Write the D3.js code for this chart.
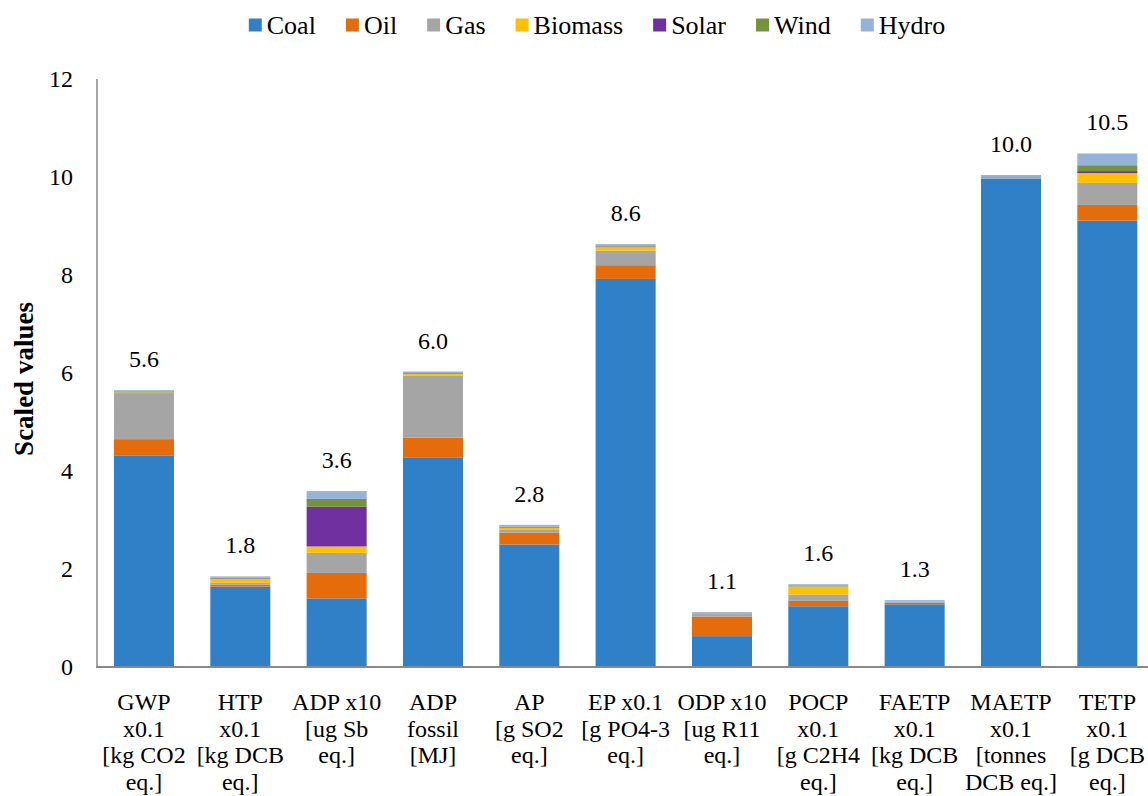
<!DOCTYPE html>
<html>
<head>
<meta charset="utf-8">
<script src="https://cdn.jsdelivr.net/npm/d3@7"></script>
<style>
  html, body { margin: 0; padding: 0; background: #fff; }
  svg text { font-family: "Liberation Serif", "Times New Roman", serif; fill: #000; }
</style>
</head>
<body>
<svg id="chart" width="1148" height="796"></svg>
<script>
// ---- data ----
const categories = ["GWP", "HTP", "ADP x10", "ADP fossil", "AP", "EP", "ODP", "POCP", "FAETP", "MAETP", "TETP"];
const categoryLines = [
  ["GWP", "x0.1", "[kg CO2", "eq.]"],
  ["HTP", "x0.1", "[kg DCB", "eq.]"],
  ["ADP x10", "[ug Sb", "eq.]"],
  ["ADP", "fossil", "[MJ]"],
  ["AP", "[g SO2", "eq.]"],
  ["EP x0.1", "[g PO4-3", "eq.]"],
  ["ODP x10", "[ug R11", "eq.]"],
  ["POCP", "x0.1", "[g C2H4", "eq.]"],
  ["FAETP", "x0.1", "[kg DCB", "eq.]"],
  ["MAETP", "x0.1", "[tonnes", "DCB eq.]"],
  ["TETP", "x0.1", "[g DCB", "eq.]"]
];
const seriesNames = ["Coal", "Oil", "Gas", "Biomass", "Solar", "Wind", "Hydro"];
const coal    = [4.32, 1.64, 1.40, 4.28, 2.50, 7.92, 0.63, 1.24, 1.28, 9.97, 9.11];
const oil     = [0.33, 0.04, 0.52, 0.40, 0.24, 0.28, 0.40, 0.11, 0.03, 0.00, 0.32];
const gas     = [0.94, 0.04, 0.41, 1.27, 0.07, 0.30, 0.05, 0.13, 0.03, 0.03, 0.45];
const biomass = [0.01, 0.08, 0.13, 0.03, 0.03, 0.07, 0.01, 0.16, 0.005, 0.00, 0.20];
const solar   = [0.00, 0.01, 0.81, 0.01, 0.01, 0.01, 0.00, 0.00, 0.00, 0.00, 0.04];
const wind    = [0.01, 0.01, 0.16, 0.01, 0.01, 0.01, 0.01, 0.01, 0.00, 0.00, 0.12];
const hydro   = [0.04, 0.03, 0.16, 0.03, 0.04, 0.04, 0.02, 0.04, 0.02, 0.04, 0.24];
const totalLabels = ["5.6", "1.8", "3.6", "6.0", "2.8", "8.6", "1.1", "1.6", "1.3", "10.0", "10.5"];
const yTicks = [0, 2, 4, 6, 8, 10, 12];
const colors = ["#3080C8", "#E46C0A", "#A5A5A5", "#FFC000", "#7030A0", "#76923C", "#95B3D7"];

// ---- build table ----
const seriesValues = [coal, oil, gas, biomass, solar, wind, hydro];
const table = categories.map((c, i) => {
  const row = { category: c };
  seriesNames.forEach((s, k) => { row[s] = seriesValues[k][i]; });
  return row;
});

const svg = d3.select("#chart");
svg.append("rect").attr("width", 1148).attr("height", 796).attr("fill", "#fff");

const x = d3.scaleBand()
  .domain(categories)
  .range([95.8, 1155.5])
  .paddingInner(0.377)
  .paddingOuter(0.1886);

const y = d3.scaleLinear().domain([0, 12]).range([667, 79]);

const stacked = d3.stack().keys(seriesNames)(table);
const color = d3.scaleOrdinal().domain(seriesNames).range(colors);

// bars
svg.append("g").selectAll("g")
  .data(stacked)
  .join("g")
  .attr("fill", d => color(d.key))
  .selectAll("rect")
  .data(d => d)
  .join("rect")
  .attr("x", d => x(d.data.category))
  .attr("width", x.bandwidth())
  .attr("y", d => y(d[1]))
  .attr("height", d => Math.max(0, y(d[0]) - y(d[1])));

// axes lines
const axisColor = "#898989";
svg.append("line")
  .attr("x1", 97).attr("x2", 97)
  .attr("y1", y(12)).attr("y2", y(0))
  .attr("stroke", axisColor).attr("stroke-width", 1.5);
svg.append("line")
  .attr("x1", 96).attr("x2", 1148)
  .attr("y1", y(0)).attr("y2", y(0))
  .attr("stroke", axisColor).attr("stroke-width", 2);

// y tick labels
svg.append("g").selectAll("text")
  .data(yTicks)
  .join("text")
  .attr("x", 73)
  .attr("y", d => y(d))
  .attr("dy", "0.35em")
  .attr("text-anchor", "end")
  .attr("font-size", 24)
  .text(d => d);

// y title
svg.append("text")
  .attr("transform", `translate(33, ${y(6) + 6}) rotate(-90)`)
  .attr("text-anchor", "middle")
  .attr("font-size", 27)
  .attr("font-weight", "bold")
  .text("Scaled values");

// x labels
const xl = svg.append("g");
categories.forEach((c, i) => {
  const cx = x(c) + x.bandwidth() / 2;
  const t = xl.append("text")
    .attr("text-anchor", "middle")
    .attr("font-size", 24)
    .attr("x", cx)
    .attr("y", 710);
  categoryLines[i].forEach((ln, j) => {
    t.append("tspan")
      .attr("x", cx)
      .attr("y", 710 + j * 26.5)
      .text(ln);
  });
});

// total labels
const topLayer = stacked[stacked.length - 1];
svg.append("g").selectAll("text")
  .data(topLayer)
  .join("text")
  .attr("x", d => x(d.data.category) + x.bandwidth() / 2)
  .attr("y", d => y(d[1]) - 23)
  .attr("text-anchor", "middle")
  .attr("font-size", 24)
  .text((d, i) => totalLabels[i]);

// legend
const legend = svg.append("g");
const fs = 26, sq = 13, gapSq = 5, gapItem = 30;
const tmp = svg.append("text").attr("font-size", fs);
const widths = seriesNames.map(n => { tmp.text(n); return tmp.node().getComputedTextLength(); });
tmp.remove();
const totalW = widths.reduce((a, w) => a + sq + gapSq + w, 0) + gapItem * (seriesNames.length - 1);
let lx = 597 - totalW / 2;
seriesNames.forEach((n, i) => {
  legend.append("rect")
    .attr("x", lx).attr("y", 25 - sq / 2)
    .attr("width", sq).attr("height", sq)
    .attr("fill", color(n));
  legend.append("text")
    .attr("x", lx + sq + gapSq).attr("y", 25)
    .attr("dy", "0.35em")
    .attr("font-size", fs)
    .text(n);
  lx += sq + gapSq + widths[i] + gapItem;
});
</script>
</body>
</html>
